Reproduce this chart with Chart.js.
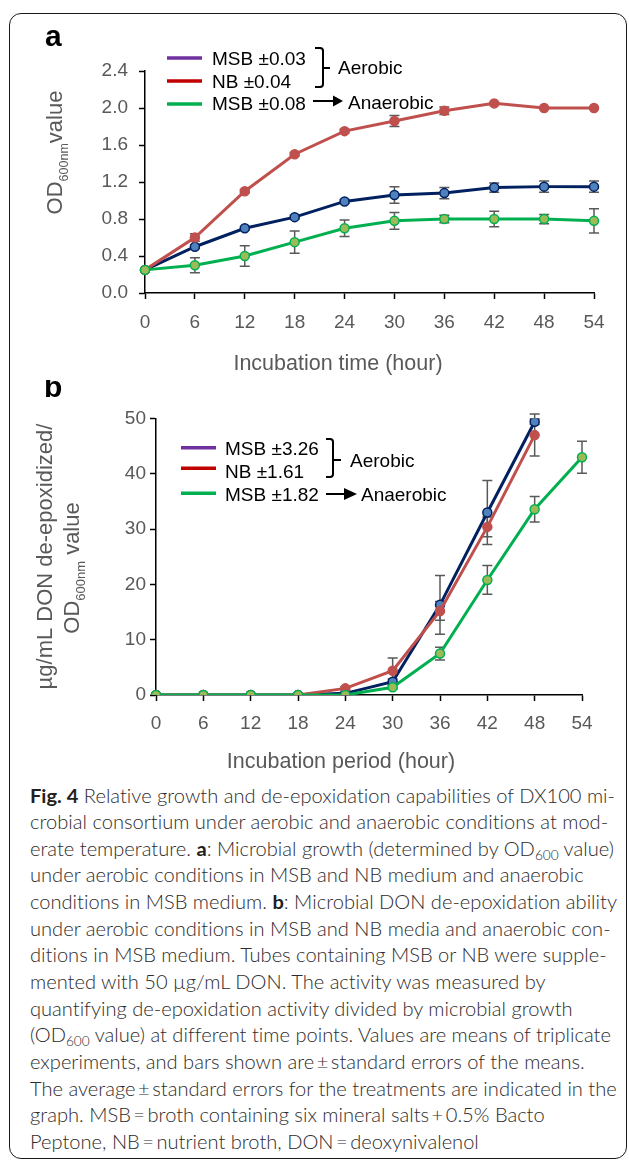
<!DOCTYPE html>
<html>
<head>
<meta charset="utf-8">
<script src="https://cdn.jsdelivr.net/npm/chart.js"></script>
<style>
  body { margin: 0; background: #fff; width: 629px; height: 1161px; overflow: hidden; position: relative; }
  #frame { position: absolute; left: 9px; top: 13px; width: 618px; height: 1146px; border: 1.5px solid #1a1a1a; border-radius: 12px; box-sizing: border-box; pointer-events: none; }
  #panelA { position: absolute; left: 0; top: 0; }
  #panelB { position: absolute; left: 0; top: 380px; }
  #caption { position: absolute; left: 30px; top: 782.5px; font-family: Lato, "Open Sans", sans-serif; font-weight: 300; font-size: 19.5px; color: #2e2b2c; font-variant-ligatures: none; }
  #caption .ln { height: 26.65px; line-height: 26.65px; white-space: nowrap; }
  #caption .ln span { display: inline-block; transform-origin: 0 50%; }
  #caption b { font-weight: 700; color: #231f20; }
  #caption sub { font-size: 0.68em; vertical-align: -0.28em; line-height: 0; }
</style>
</head>
<body>
<canvas id="panelA" width="629" height="380" style="width:629px;height:380px"></canvas>
<canvas id="panelB" width="629" height="400" style="width:629px;height:400px"></canvas>
<div id="caption">
  <div class="ln"><span><b>Fig. 4</b> Relative growth and de-epoxidation capabilities of DX100 mi-</span></div>
  <div class="ln"><span>crobial consortium under aerobic and anaerobic conditions at mod-</span></div>
  <div class="ln"><span>erate temperature. <b>a</b>: Microbial growth (determined by OD<sub>600</sub> value)</span></div>
  <div class="ln"><span>under aerobic conditions in MSB and NB medium and anaerobic</span></div>
  <div class="ln"><span>conditions in MSB medium. <b>b</b>: Microbial DON de-epoxidation ability</span></div>
  <div class="ln"><span>under aerobic conditions in MSB and NB media and anaerobic con-</span></div>
  <div class="ln"><span>ditions in MSB medium. Tubes containing MSB or NB were supple-</span></div>
  <div class="ln"><span>mented with 50 µg/mL DON. The activity was measured by</span></div>
  <div class="ln"><span>quantifying de-epoxidation activity divided by microbial growth</span></div>
  <div class="ln"><span>(OD<sub>600</sub> value) at different time points. Values are means of triplicate</span></div>
  <div class="ln"><span>experiments, and bars shown are&#8201;±&#8201;standard errors of the means.</span></div>
  <div class="ln"><span>The average&#8201;±&#8201;standard errors for the treatments are indicated in the</span></div>
  <div class="ln"><span>graph. MSB&#8201;=&#8201;broth containing six mineral salts&#8201;+&#8201;0.5% Bacto</span></div>
  <div class="ln"><span>Peptone, NB&#8201;=&#8201;nutrient broth, DON&#8201;=&#8201;deoxynivalenol</span></div>
</div>
<div id="frame"></div>
<script>
// Time points (hours)
const hourLabels = ['0', '6', '12', '18', '24', '30', '36', '42', '48', '54'];

// Panel a: OD600nm value
const odMsbAerobic = [0.25, 0.50, 0.70, 0.82, 0.99, 1.06, 1.08, 1.14, 1.15, 1.15];
const odMsbAerobicErr = [0.01, 0.02, 0.02, 0.02, 0.02, 0.09, 0.06, 0.05, 0.06, 0.06];
const odNbAerobic = [0.25, 0.60, 1.10, 1.50, 1.75, 1.86, 1.97, 2.05, 2.00, 2.00];
const odNbAerobicErr = [0.01, 0.04, 0.02, 0.02, 0.02, 0.06, 0.04, 0.01, 0.01, 0.01];
const odMsbAnaerobic = [0.25, 0.30, 0.40, 0.55, 0.70, 0.78, 0.80, 0.80, 0.80, 0.78];
const odMsbAnaerobicErr = [0.01, 0.08, 0.11, 0.12, 0.09, 0.09, 0.04, 0.085, 0.05, 0.13];
const legendA = ['MSB ±0.03', 'NB ±0.04', 'MSB ±0.08'];

// Panel b: ug/mL DON de-epoxidized / OD600nm value
const donMsbAerobic = [0, 0, 0, 0, 0.3, 2.4, 16.3, 33.0, 49.4, null];
const donMsbAerobicErr = [0, 0, 0, 0, 0.2, 0.5, 5.3, 5.8, 0.5, null];
const donNbAerobic = [0, 0, 0, 0, 1.2, 4.4, 15.2, 30.4, 47.0, null];
const donNbAerobicErr = [0, 0, 0, 0, 0.3, 2.3, 1.7, 1.8, 3.8, null];
const donMsbAnaerobic = [0, 0, 0, 0, 0, 1.4, 7.5, 20.8, 33.6, 43.0];
const donMsbAnaerobicErr = [0, 0, 0, 0, 0, 0.3, 1.15, 2.6, 2.3, 2.9];
const legendB = ['MSB ±3.26', 'NB ±1.61', 'MSB ±1.82'];

const FONT = '"Liberation Sans", Arial, Helvetica, sans-serif';
const GREY = '#595959';
const NAVY = '#002060', BLUE_PT = '#4F81BD';
const RED = '#C0504D';
const GREEN = '#00B050', GREEN_PT = '#9BBB59';
const legendColors = ['#7030A0', '#C00000', '#00B050'];

function series(data, errors, line, fill, edge) {
    return {
        data: data,
        errors: errors,
        borderColor: line,
        borderWidth: 3,
        pointRadius: 4.5,
        pointHoverRadius: 4.5,
        pointBackgroundColor: fill,
        pointBorderColor: edge,
        pointBorderWidth: 1.5,
        tension: 0,
        spanGaps: false
    };
}

// error bars with caps, drawn under the lines and markers
const errorBars = {
    id: 'errorBars',
    beforeDatasetsDraw(chart) {
        const ctx = chart.ctx;
        const y = chart.scales.y;
        ctx.save();
        ctx.strokeStyle = GREY;
        ctx.lineWidth = 1.5;
        chart.data.datasets.forEach((ds, di) => {
            const meta = chart.getDatasetMeta(di);
            ds.errors.forEach((e, i) => {
                const v = ds.data[i];
                if (v == null || !e) return;
                const px = meta.data[i].x;
                const top = y.getPixelForValue(v + e);
                const bot = y.getPixelForValue(Math.max(v - e, 0));
                ctx.beginPath();
                ctx.moveTo(px, top); ctx.lineTo(px, bot);
                ctx.moveTo(px - 5, top); ctx.lineTo(px + 5, top);
                ctx.moveTo(px - 5, bot); ctx.lineTo(px + 5, bot);
                ctx.stroke();
            });
        });
        ctx.restore();
    }
};

// rotated axis title made of text runs: [text, size, baseline shift]
function drawRotated(ctx, runs, baseX, centerY) {
    let total = 0;
    runs.forEach(r => { ctx.font = r[1] + 'px ' + FONT; total += ctx.measureText(r[0]).width; });
    ctx.save();
    ctx.translate(baseX, centerY);
    ctx.rotate(-Math.PI / 2);
    ctx.textBaseline = 'alphabetic';
    ctx.textAlign = 'left';
    let u = -total / 2;
    runs.forEach(r => {
        ctx.font = r[1] + 'px ' + FONT;
        ctx.fillText(r[0], u, r[2]);
        u += ctx.measureText(r[0]).width;
    });
    ctx.restore();
}

function panelDecor(spec) {
    return {
        id: 'panelDecor',
        afterDraw(chart) {
            const ctx = chart.ctx;
            ctx.save();
            // panel letter
            ctx.fillStyle = '#000';
            ctx.font = 'bold 30px ' + FONT;
            ctx.textBaseline = 'alphabetic';
            ctx.textAlign = 'left';
            ctx.fillText(spec.letter, spec.letterX, spec.letterBase);

            // legend
            const lg = spec.legend;
            lg.labels.forEach((t, i) => {
                ctx.strokeStyle = legendColors[i];
                ctx.lineWidth = 3.5;
                ctx.beginPath();
                ctx.moveTo(lg.x1, lg.lineY[i]);
                ctx.lineTo(lg.x2, lg.lineY[i]);
                ctx.stroke();
                ctx.fillStyle = '#000';
                ctx.font = '19px ' + FONT;
                ctx.fillText(t, lg.textX, lg.base[i]);
            });

            // bracket
            const b = spec.bracket;
            ctx.strokeStyle = '#000';
            ctx.lineWidth = 2;
            ctx.beginPath();
            ctx.moveTo(b.capL, b.top);
            ctx.arcTo(b.x, b.top, b.x, b.bottom, 3);
            ctx.arcTo(b.x, b.bottom, b.capL, b.bottom, 3);
            ctx.lineTo(b.capL, b.bottom);
            ctx.moveTo(b.x, b.mid);
            ctx.lineTo(b.tipR, b.mid);
            ctx.stroke();
            ctx.font = '19px ' + FONT;
            ctx.fillText('Aerobic', spec.aerobicX, spec.aerobicBase);

            // arrow
            const a = spec.arrow;
            ctx.beginPath();
            ctx.moveTo(a.x1, a.y);
            ctx.lineTo(a.x2 - a.head + 1, a.y);
            ctx.stroke();
            ctx.beginPath();
            ctx.moveTo(a.x2 - a.head, a.y - a.h / 2);
            ctx.lineTo(a.x2, a.y);
            ctx.lineTo(a.x2 - a.head, a.y + a.h / 2);
            ctx.closePath();
            ctx.fill();
            ctx.fillText('Anaerobic', spec.anaerobicX, spec.anaerobicBase);

            // axis titles
            ctx.fillStyle = GREY;
            spec.yTitle.forEach(t => drawRotated(ctx, t.runs, t.base, t.cy));
            ctx.font = '21.5px ' + FONT;
            ctx.textAlign = 'center';
            ctx.fillText(spec.xTitle, spec.xTitleX, spec.xTitleBase);
            ctx.restore();
        }
    };
}

function buildChart(id, datasets, yMax, yStep, yFmt, g, spec) {
    return new Chart(document.getElementById(id), {
        type: 'line',
        data: { labels: hourLabels, datasets: datasets },
        options: {
            responsive: false,
            animation: false,
            layout: { padding: { top: g.top, right: g.right, left: 0, bottom: 0 } },
            plugins: { legend: { display: false }, tooltip: { enabled: false } },
            scales: {
                x: {
                    type: 'category',
                    offset: false,
                    grid: { offset: false, drawOnChartArea: false, color: '#000', tickLength: 6, tickWidth: 1.5 },
                    border: { color: '#000', width: 1.5 },
                    ticks: { color: GREY, font: { family: FONT, size: 19 }, padding: g.xPad, maxRotation: 0, autoSkip: false },
                    afterFit(s) { s.height = g.xh; }
                },
                y: {
                    min: 0,
                    max: yMax,
                    grid: { drawOnChartArea: false, color: '#000', tickLength: 6, tickWidth: 1.5 },
                    border: { color: '#000', width: 1.5 },
                    ticks: { stepSize: yStep, callback: yFmt, color: GREY, font: { family: FONT, size: 19 }, padding: g.yPad },
                    afterFit(s) { s.width = g.yw; }
                }
            }
        },
        plugins: [errorBars, panelDecor(spec)]
    });
}

// Panel a
buildChart('panelA', [
    series(odMsbAnaerobic, odMsbAnaerobicErr, GREEN, GREEN_PT, GREEN),
    series(odNbAerobic, odNbAerobicErr, RED, RED, RED),
    series(odMsbAerobic, odMsbAerobicErr, NAVY, BLUE_PT, NAVY)
], 2.4, 0.4, v => v.toFixed(1),
{ top: 71, right: 35, xh: 87, yw: 145, xPad: 12, yPad: 11 },
{
    letter: 'a', letterX: 45, letterBase: 46,
    legend: { labels: legendA, x1: 167, x2: 202, textX: 212, lineY: [58, 81, 104], base: [65, 87.5, 110] },
    bracket: { x: 323, top: 48, bottom: 87, capL: 315, tipR: 330, mid: 68 },
    aerobicX: 338, aerobicBase: 74,
    arrow: { x1: 313, x2: 343, y: 101, head: 10, h: 11 },
    anaerobicX: 348, anaerobicBase: 109,
    yTitle: [{ base: 62, cy: 152.5, runs: [['OD', 22, 0], ['600nm', 12.5, 6], ['value', 22, 0]] }],
    xTitle: 'Incubation time (hour)', xTitleX: 338, xTitleBase: 370
});

// Panel b
buildChart('panelB', [
    series(donMsbAnaerobic, donMsbAnaerobicErr, GREEN, GREEN_PT, GREEN),
    series(donNbAerobic, donNbAerobicErr, RED, RED, RED),
    series(donMsbAerobic, donMsbAerobicErr, NAVY, BLUE_PT, NAVY)
], 50, 10, v => v,
{ top: 38.5, right: 47, xh: 85, yw: 156, xPad: 11, yPad: 4 },
{
    letter: 'b', letterX: 44, letterBase: 17,
    legend: { labels: legendB, x1: 181, x2: 216, textX: 225, lineY: [67.7, 88.3, 113.3], base: [75, 98.3, 120.7] },
    bracket: { x: 333, top: 59, bottom: 97, capL: 326, tipR: 341, mid: 80 },
    aerobicX: 350, aerobicBase: 86.7,
    arrow: { x1: 326, x2: 357, y: 114, head: 13, h: 12 },
    anaerobicX: 361, anaerobicBase: 120.7,
    yTitle: [
        { base: 51.5, cy: 176.5, runs: [['µg/mL DON de-epoxidized/', 22, 0]] },
        { base: 79, cy: 188, runs: [['OD', 22, 0], ['600nm', 13, 5.5], [' value', 22, 0]] }
    ],
    xTitle: 'Incubation period (hour)', xTitleX: 341, xTitleBase: 388
});

// caption: squeeze lines horizontally so the first line spans the same width as in the figure
const spans = document.querySelectorAll('#caption .ln span');
const squeeze = 585 / spans[0].getBoundingClientRect().width;
spans.forEach(s => { s.style.transform = 'scaleX(' + squeeze + ')'; });
</script>
</body>
</html>
